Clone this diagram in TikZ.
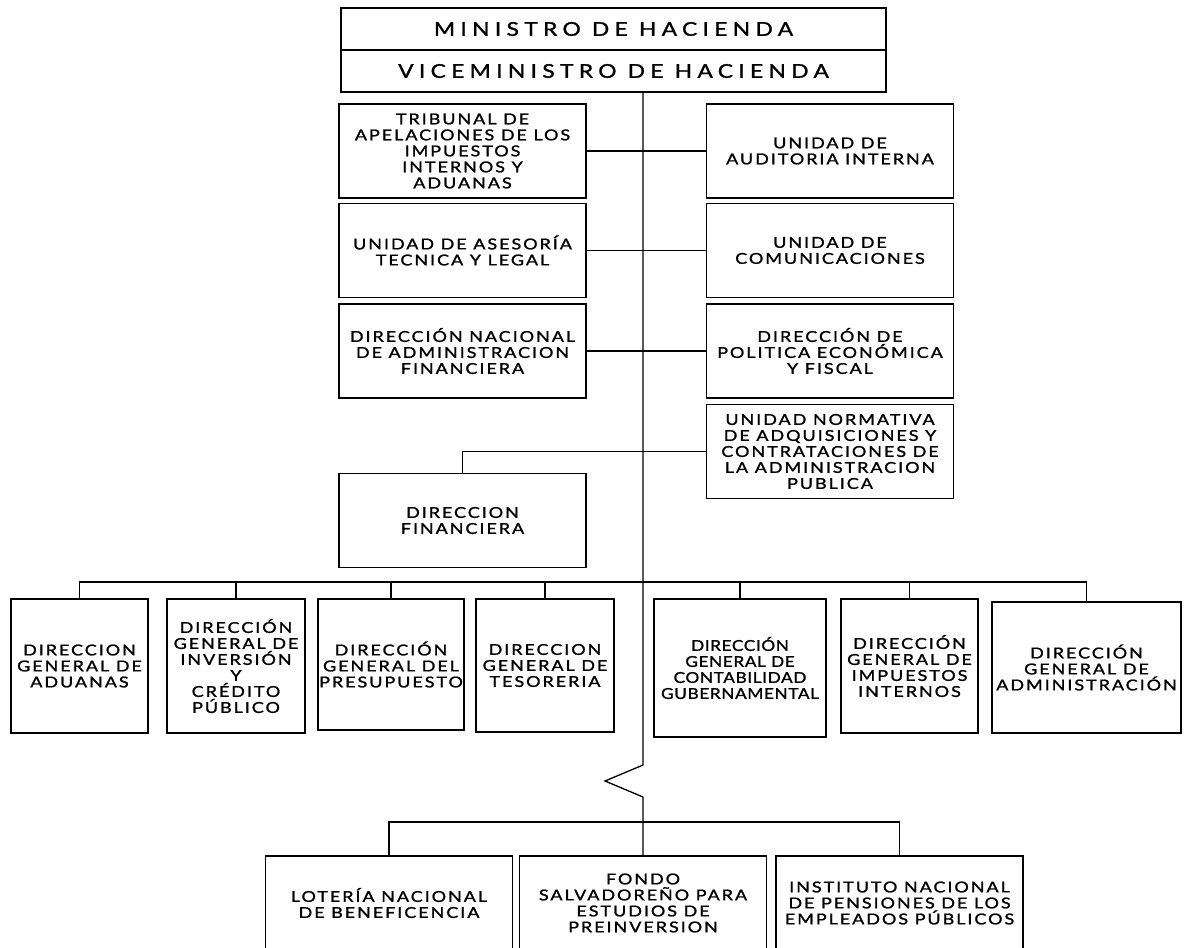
\documentclass[tikz,border=0pt]{standalone}
\usepackage{fontspec}
\setmainfont{Lato}[FakeStretch=1.2,LetterSpace=13,FakeBold=1.3]
\newfontfamily\titlefont{Lato}[FakeStretch=1.2,LetterSpace=28,FakeBold=1.3]
\newfontfamily\tightfont{Lato}[FakeStretch=1.15,LetterSpace=4,FakeBold=1.3]
\tikzset{
  unit/.style={draw,line width=1.3pt,inner sep=0pt,align=center,font=\fontsize{15}{16}\selectfont},
  head/.style={unit,minimum width=545pt,minimum height=42pt,font=\titlefont\fontsize{19}{21}\selectfont},
  side/.style={unit,minimum width=247pt,minimum height=94pt},
  dept/.style={unit,minimum height=134pt},
  link/.style={line width=1.3pt}
}
\begin{document}
\begin{tikzpicture}[x=1pt,y=-1pt]
  \useasboundingbox (0,0) rectangle (1184,948);
  \clip (0,0) rectangle (1184,948);
  \node[head] (min) at (613.5,29) {MINISTRO DE HACIENDA};
  \node[head] (vice) at (613.5,71) {VICEMINISTRO DE HACIENDA};
  % staff units
  \node[side] (trib) at (462.5,151) {TRIBUNAL DE\\APELACIONES DE LOS\\IMPUESTOS\\INTERNOS Y\\ADUANAS};
  \node[side] (ases) at (462.5,250.5) {UNIDAD DE ASESORÍA\\TECNICA Y LEGAL};
  \node[side] (dnaf) at (462.5,351) {DIRECCIÓN NACIONAL\\DE ADMINISTRACION\\FINANCIERA};
  \node[side] (audi) at (830,151) {UNIDAD DE\\AUDITORIA INTERNA};
  \node[side] (comu) at (830,250.5) {UNIDAD DE\\COMUNICACIONES};
  \node[side] (dpef) at (830,351) {DIRECCIÓN DE\\POLITICA ECONÓMICA\\Y FISCAL};
  \node[side] (unac) at (830,451.5) {UNIDAD NORMATIVA\\DE ADQUISICIONES Y\\CONTRATACIONES DE\\LA ADMINISTRACION\\PUBLICA};
  \node[side] (dfin) at (462.5,520.5) {DIRECCION\\FINANCIERA};
  % general directorates
  \node[dept,minimum width=137pt] (adua) at (79.5,666) {DIRECCION\\GENERAL DE\\ADUANAS};
  \node[dept,minimum width=138pt] (inve) at (236,666) {DIRECCIÓN\\GENERAL DE\\INVERSIÓN\\Y\\CRÉDITO\\PÚBLICO};
  \node[dept,minimum width=146pt,minimum height=131pt] (pres) at (391,664.5) {DIRECCIÓN\\GENERAL DEL\\PRESUPUESTO};
  \node[dept,minimum width=138pt,minimum height=133pt] (teso) at (545,665.5) {DIRECCION\\GENERAL DE\\TESORERIA};
  \node[dept,minimum width=172pt,minimum height=138pt,font=\tightfont\fontsize{15}{16}\selectfont] (cont) at (740,668) {DIRECCIÓN\\GENERAL DE\\CONTABILIDAD\\GUBERNAMENTAL};
  \node[dept,minimum width=137pt] (impu) at (909.5,666) {DIRECCIÓN\\GENERAL DE\\IMPUESTOS\\INTERNOS};
  \node[dept,minimum width=189pt,minimum height=131pt] (admi) at (1086.5,667.5) {DIRECCIÓN\\GENERAL DE\\ADMINISTRACIÓN};
  % decentralised bodies
  \node[side] (lote) at (389,903) {LOTERÍA NACIONAL\\DE BENEFICENCIA};
  \node[side] (fond) at (643,903) {FONDO\\SALVADOREÑO PARA\\ESTUDIOS DE\\PREINVERSION};
  \node[side] (inst) at (899.5,903) {INSTITUTO NACIONAL\\DE PENSIONES DE LOS\\EMPLEADOS PÚBLICOS};
  \coordinate (bus1) at (643,582);
  \coordinate (bus2) at (643,822);
  \coordinate (zig1) at (643,765);
  \coordinate (zig2) at (605,781);
  \coordinate (zig3) at (643,797);
  % connectors
  \draw[link] (vice.south -| bus1) -- (zig1) -- (zig2) -- (zig3) -- (fond.north);
  \foreach \l/\r in {trib/audi,ases/comu,dnaf/dpef} \draw[link] (\l.east) -- (\r.west);
  \draw[link] (unac.west) -| (dfin.north);
  \draw[link] (adua.north) |- (bus1) -| (admi.north);
  \foreach \d in {inve,pres,teso,cont,impu} \draw[link] (\d.north) -- (\d.north |- bus1);
  \draw[link] (lote.north) |- (bus2) -| (inst.north);
\end{tikzpicture}
\end{document}
